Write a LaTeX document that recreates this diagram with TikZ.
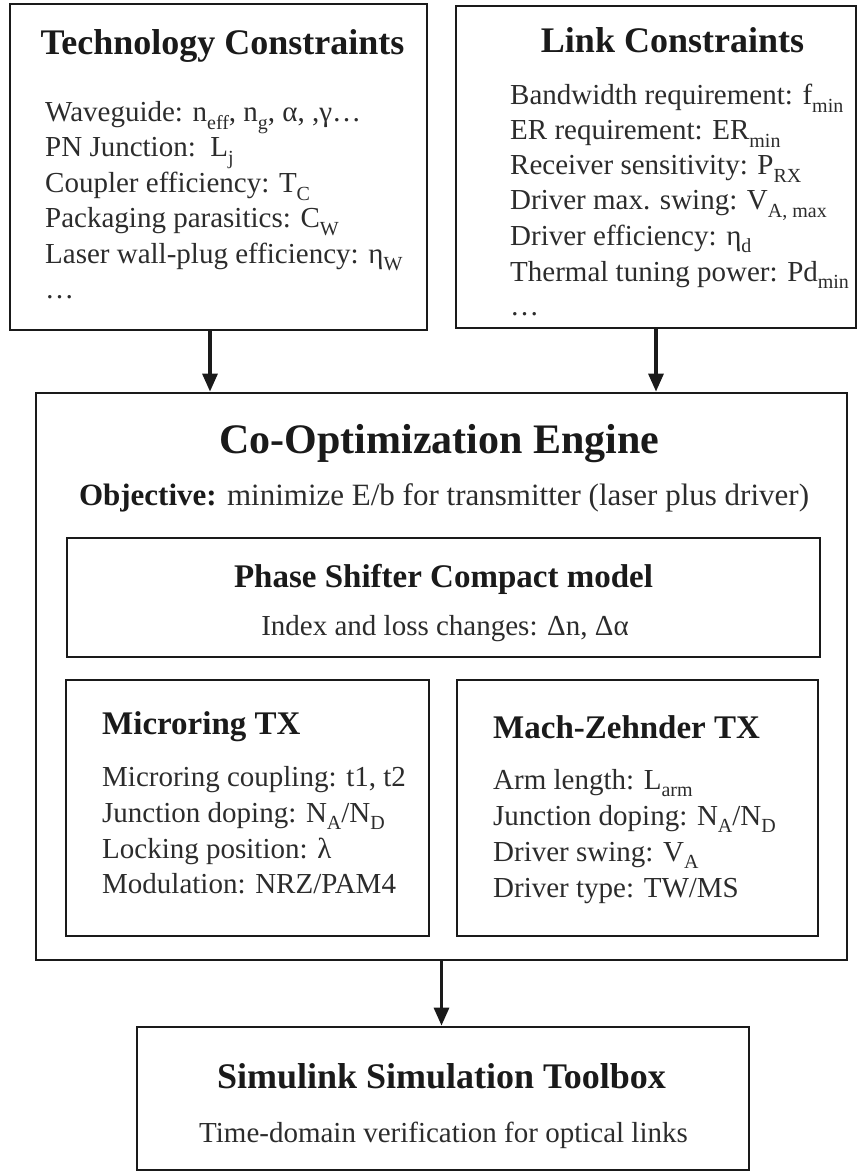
\documentclass[tikz,border=0pt]{standalone}
\usepackage{fontspec}
\setmainfont{Liberation Serif}
\usetikzlibrary{arrows.meta}
\definecolor{ink}{HTML}{1A1A1A}
\definecolor{bodyc}{HTML}{2C2C2C}
\newcommand{\lowsub}[1]{\raisebox{-0.25em}{\fontsize{20}{20}\selectfont #1}}
\begin{document}
\begin{tikzpicture}[x=1pt,y=-1pt,
 box/.style={draw=ink, line width=2.8pt, rectangle, inner sep=0pt},
 ibox/.style={draw=ink, line width=2.4pt, rectangle, inner sep=0pt},
 arr/.style={draw=ink, line width=3.2pt, -{Triangle[width=15pt,length=18pt]}},
 ttl/.style={anchor=base, inner sep=0pt, text=ink, font=\fontsize{36}{40}\selectfont\bfseries},
 bigttl/.style={anchor=base, inner sep=0pt, text=ink, font=\fontsize{42}{46}\selectfont\bfseries},
 subttl/.style={inner sep=0pt, text=ink, font=\fontsize{33}{38}\selectfont\bfseries},
 ln/.style={anchor=base west, inner sep=0pt, text=bodyc, font=\fontsize{29}{34}\selectfont},
 cln/.style={anchor=base, inner sep=0pt, text=bodyc, font=\fontsize{29}{34}\selectfont},
]
\useasboundingbox (0,0) rectangle (860,1174);

% boxes
\node[box, minimum width=417pt, minimum height=326pt] (tech) at (218.5,167) {};
\node[box, minimum width=400pt, minimum height=322pt] (link) at (656,167) {};
\node[box, minimum width=811pt, minimum height=567pt] (engine) at (441.5,676.5) {};
\node[ibox, minimum width=753pt, minimum height=119pt] (phase) at (443.5,597.5) {};
\node[ibox, minimum width=363pt, minimum height=256pt] (micro) at (247.5,808) {};
\node[ibox, minimum width=361pt, minimum height=256pt] (mz) at (637.5,808) {};
\node[box, minimum width=612pt, minimum height=143pt] (sim) at (443,1098.5) {};

% Technology constraints
\node[ttl] (techT) at (222.5,55) {Technology Constraints};
\node[ln] (t1) at (45,122) {Waveguide: n\lowsub{eff}, n\lowsub{g}, α, ,γ…};
\node[ln] (t2) at (45,157) {PN Junction:\ \ L\lowsub{j}};
\node[ln] (t3) at (45,193) {Coupler efficiency: T\lowsub{C}};
\node[ln] (t4) at (45,228) {Packaging parasitics: C\lowsub{W}};
\node[ln] (t5) at (45,263) {Laser wall-plug efficiency: η\lowsub{W}};
\node[ln] (t6) at (45,298) {…};

% Link constraints
\node[ttl] (linkT) at (672.5,53) {Link Constraints};
\node[ln] (l1) at (510,105) {Bandwidth requirement: f\lowsub{min}};
\node[ln] (l2) at (510,140) {ER requirement: ER\lowsub{min}};
\node[ln] (l3) at (510,175) {Receiver sensitivity: P\lowsub{RX}};
\node[ln] (l4) at (510,210) {Driver max. swing: V\lowsub{A, max}};
\node[ln] (l5) at (510,245) {Driver efficiency: η\lowsub{d}};
\node[ln] (l6) at (510,281) {Thermal tuning power: Pd\lowsub{min}};
\node[ln] (l7) at (510,315) {…};

% Engine
\node[bigttl] (engT) at (439.5,453) {Co-Optimization Engine};
\node[anchor=base, inner sep=0pt, text=bodyc, font=\fontsize{31}{36}\selectfont] (obj) at (444,505)
  {{\color{ink}\bfseries Objective:} minimize E/b for transmitter (laser plus driver)};

\node[subttl, anchor=base] (phT) at (443.5,587) {Phase Shifter Compact model};
\node[cln] (ph1) at (445,635) {Index and loss changes: Δn, Δα};

\node[subttl, anchor=base west] (miT) at (102,734) {Microring TX};
\node[ln] (m1) at (102,786) {Microring coupling: t1, t2};
\node[ln] (m2) at (102,822) {Junction doping: N\lowsub{A}/N\lowsub{D}};
\node[ln] (m3) at (102,858) {Locking position: λ};
\node[ln] (m4) at (102,893) {Modulation: NRZ/PAM4};

\node[subttl, anchor=base west] (mzT) at (493,738) {Mach-Zehnder TX};
\node[ln] (z1) at (493,789) {Arm length: L\lowsub{arm}};
\node[ln] (z2) at (493,825) {Junction doping: N\lowsub{A}/N\lowsub{D}};
\node[ln] (z3) at (493,861) {Driver swing: V\lowsub{A}};
\node[ln] (z4) at (493,897) {Driver type: TW/MS};

% Simulink
\node[ttl] (simT) at (441.5,1088) {Simulink Simulation Toolbox};
\node[cln] (s1) at (443.5,1142) {Time-domain verification for optical links};

% arrows
\coordinate (ax1) at (210,0);
\draw[arr] (tech.south -| ax1) -- (engine.north -| ax1);
\draw[arr] (link.south) -- (link.south |- engine.north);
\draw[arr] (engine.south) -- (engine.south |- sim.north);
\end{tikzpicture}
\end{document}
